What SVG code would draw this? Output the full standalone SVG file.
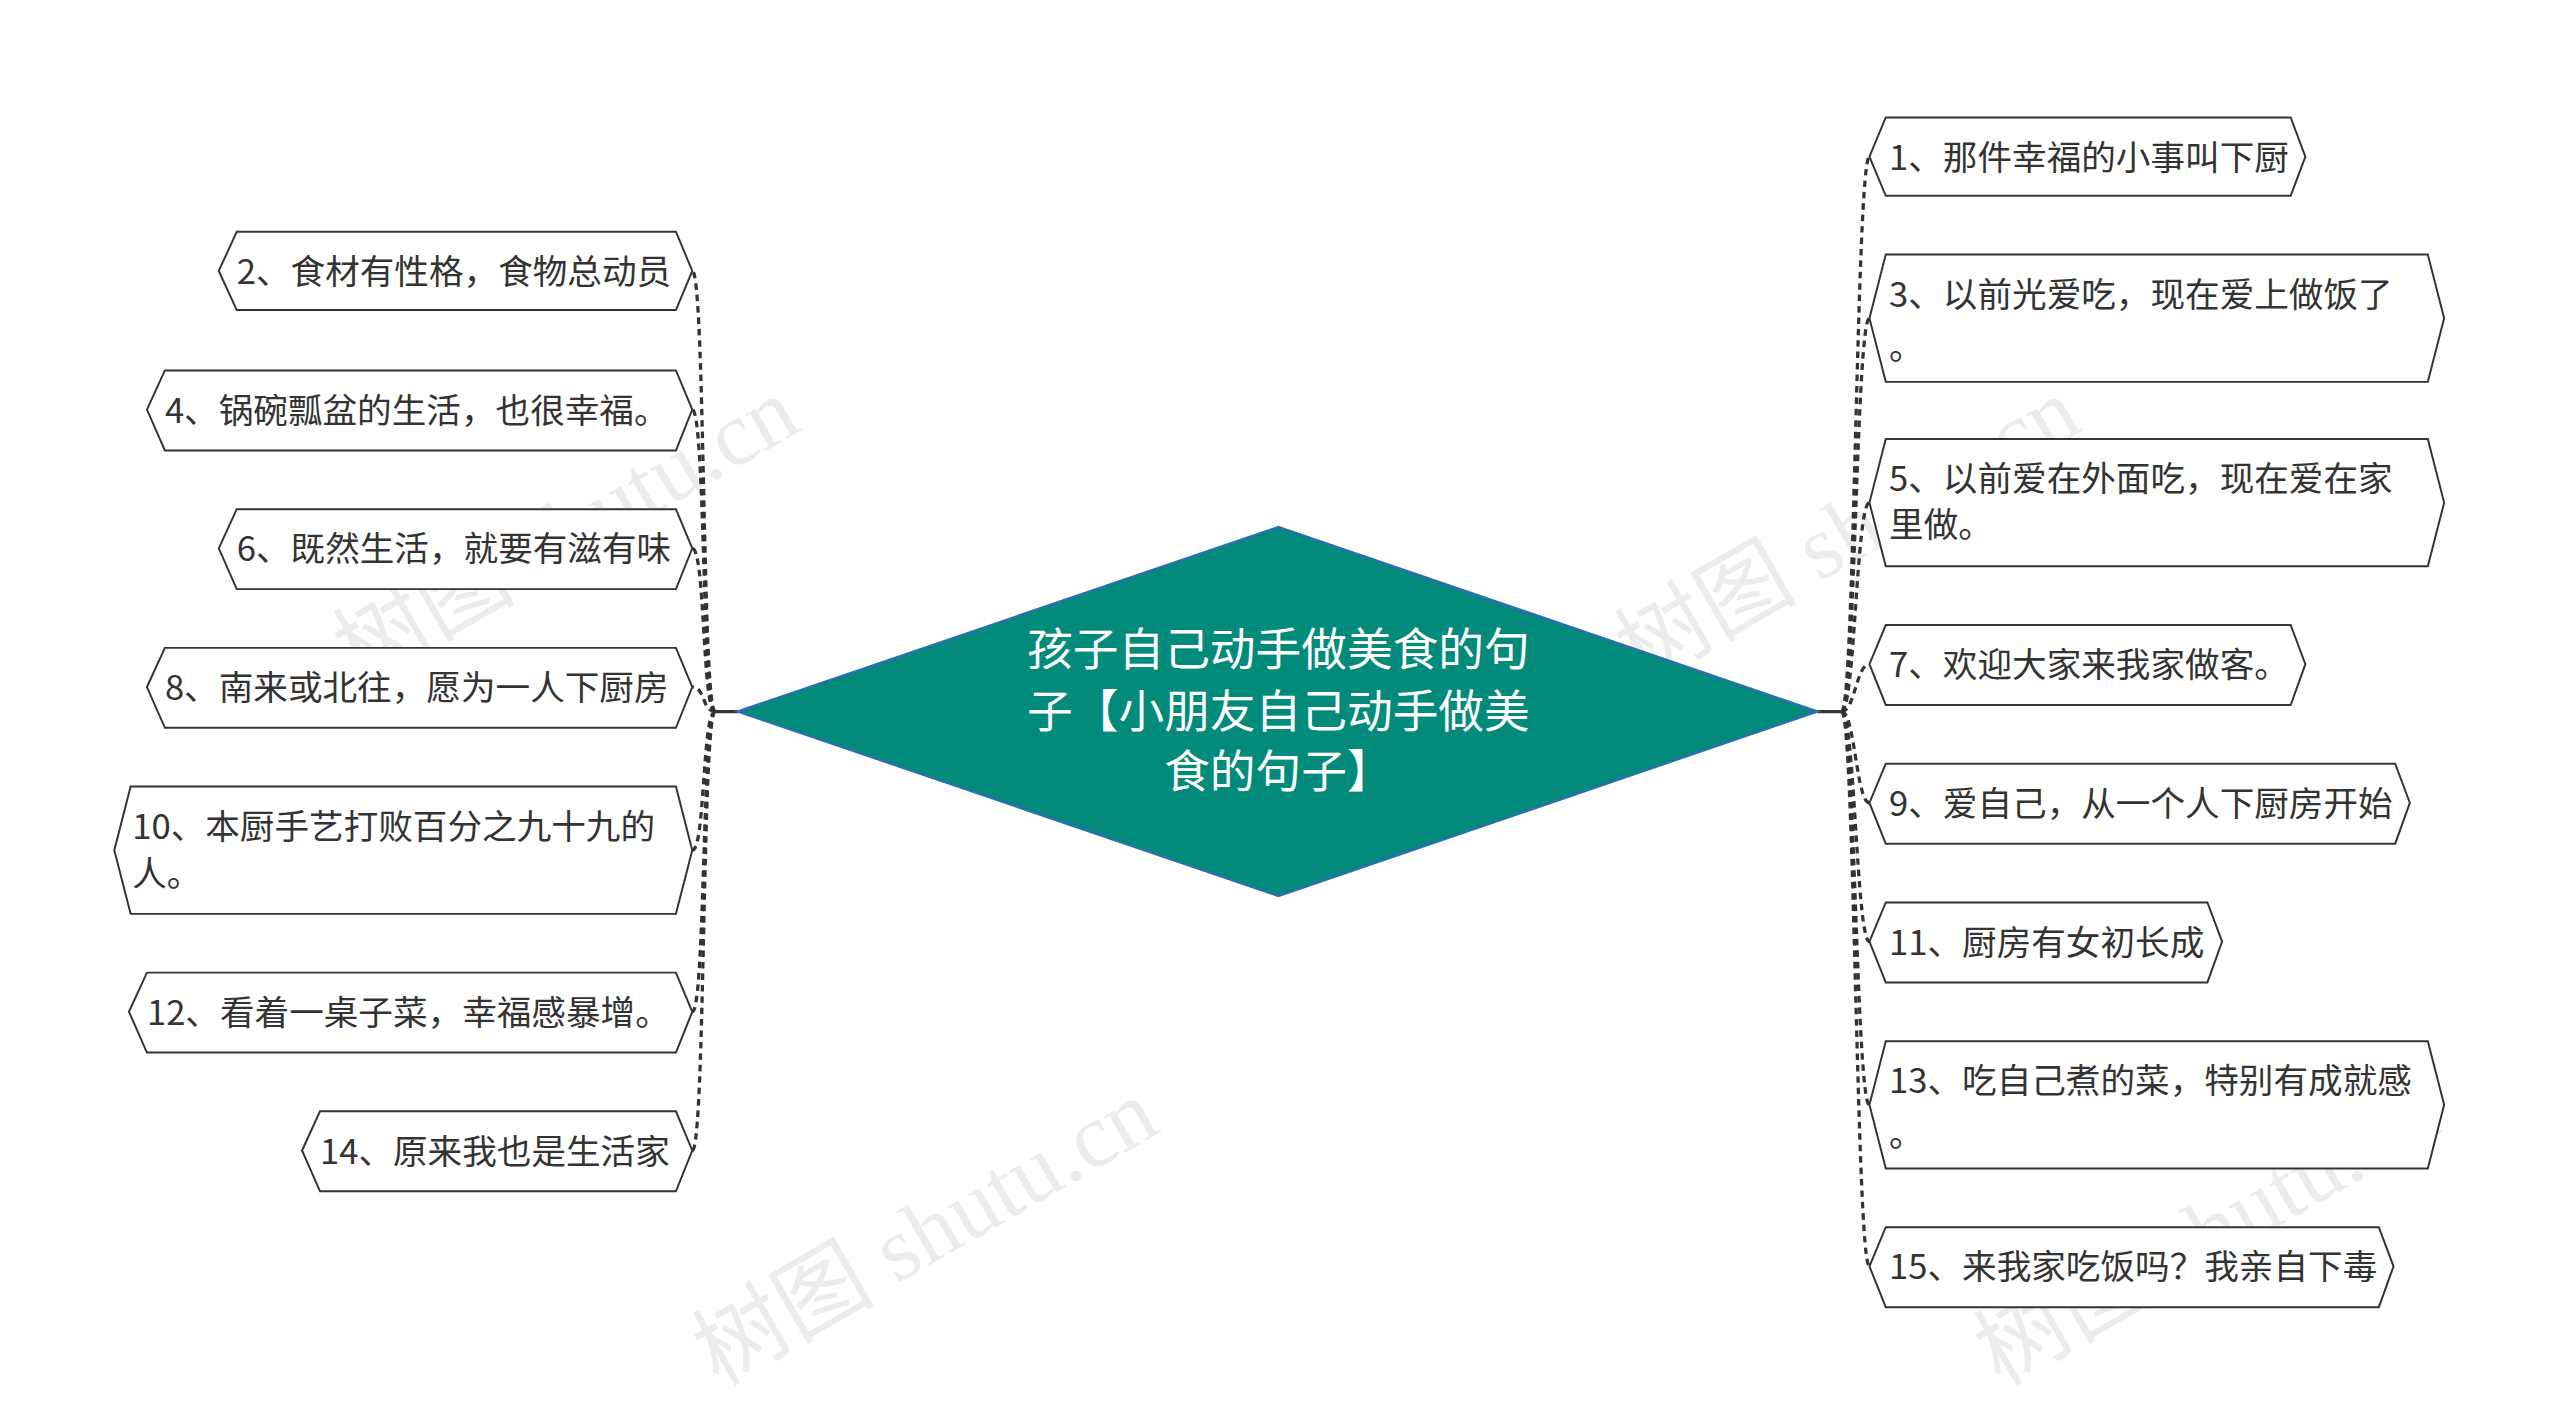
<svg xmlns="http://www.w3.org/2000/svg" width="2560" height="1423" viewBox="0 0 2560 1423">
<style>
.n{fill:#fff;stroke:#333;stroke-width:1.2}
.t{font-family:"Noto Sans CJK SC","Noto Sans",sans-serif;font-size:21.2px;fill:#333}
.c{fill:none;stroke:#333;stroke-width:2;stroke-dasharray:4 3}
.w{font-family:"Liberation Serif","Noto Sans CJK SC",serif;font-size:56px;fill:#000;opacity:0.07}
</style>
<rect width="2560" height="1423" fill="#fff"/>
<g transform="scale(1.6327,1.6319)">
<g id="watermarks">
<text class="w" transform="translate(220,420) rotate(-30)">树图 shutu.cn</text>
<text class="w" transform="translate(1005,420) rotate(-30)">树图 shutu.cn</text>
<text class="w" transform="translate(440,850) rotate(-30)">树图 shutu.cn</text>
<text class="w" transform="translate(1225,850) rotate(-30)">树图 shutu.cn</text>
</g>
<g id="connectors">
<path d="M452 436H438M1113 436H1128" stroke="#333" stroke-width="2" fill="none"/>
<path class="c" d="M438 436C430 436 432 166 424 166"/>
<path class="c" d="M438 436C430 436 432 251 424 251"/>
<path class="c" d="M438 436C430 436 432 336 424 336"/>
<path class="c" d="M438 436C430 436 432 421 424 421"/>
<path class="c" d="M438 436C430 436 432 521 424 521"/>
<path class="c" d="M438 436C430 436 432 620 424 620"/>
<path class="c" d="M438 436C430 436 432 705 424 705"/>
<path class="c" d="M1128 436C1136 436 1137 96 1145 96"/>
<path class="c" d="M1128 436C1136 436 1137 195 1145 195"/>
<path class="c" d="M1128 436C1136 436 1137 308 1145 308"/>
<path class="c" d="M1128 436C1136 436 1137 407 1145 407"/>
<path class="c" d="M1128 436C1136 436 1137 492 1145 492"/>
<path class="c" d="M1128 436C1136 436 1137 577 1145 577"/>
<path class="c" d="M1128 436C1136 436 1137 677 1145 677"/>
<path class="c" d="M1128 436C1136 436 1137 776 1145 776"/>
</g>
<g id="center">
<polygon points="452,436 783,323 1113,436 783,549" fill="#028a7b" stroke="#2a6fb0" stroke-width="1.5"/>
<text class="t" style="font-size:28px;fill:#fff" text-anchor="middle"><tspan x="783" y="408">孩子自己动手做美食的句</tspan><tspan x="783" y="446">子【小朋友自己动手做美</tspan><tspan x="783" y="483">食的句子】</tspan></text>
</g>
<g id="n2"><polygon class="n" points="134,166 145,142 414,142 424,166 414,190 145,190"/><text class="t" x="145" y="174">2、食材有性格，食物总动员</text></g>
<g id="n4"><polygon class="n" points="90,251 101,227 414,227 424,251 414,276 101,276"/><text class="t" x="101" y="259">4、锅碗瓢盆的生活，也很幸福。</text></g>
<g id="n6"><polygon class="n" points="134,336 145,312 414,312 424,336 414,361 145,361"/><text class="t" x="145" y="344">6、既然生活，就要有滋有味</text></g>
<g id="n8"><polygon class="n" points="90,421 101,397 414,397 424,421 414,446 101,446"/><text class="t" x="101" y="429">8、南来或北往，愿为一人下厨房</text></g>
<g id="n10"><polygon class="n" points="70,521 80,482 414,482 424,521 414,560 80,560"/><text class="t"><tspan x="81" y="514">10、本厨手艺打败百分之九十九的</tspan><tspan x="81" y="543">人。</tspan></text></g>
<g id="n12"><polygon class="n" points="79,620 90,596 414,596 424,620 414,645 90,645"/><text class="t" x="90" y="628">12、看着一桌子菜，幸福感暴增。</text></g>
<g id="n14"><polygon class="n" points="185,705 196,681 414,681 424,705 414,730 196,730"/><text class="t" x="196" y="713">14、原来我也是生活家</text></g>
<g id="n1"><polygon class="n" points="1145,96 1155,72 1403,72 1412,96 1403,120 1155,120"/><text class="t" x="1157" y="104">1、那件幸福的小事叫下厨</text></g>
<g id="n3"><polygon class="n" points="1145,195 1155,156 1487,156 1497,195 1487,234 1155,234"/><text class="t"><tspan x="1157" y="188">3、以前光爱吃，现在爱上做饭了</tspan><tspan x="1157" y="220">。</tspan></text></g>
<g id="n5"><polygon class="n" points="1145,308 1155,269 1487,269 1497,308 1487,347 1155,347"/><text class="t"><tspan x="1157" y="301">5、以前爱在外面吃，现在爱在家</tspan><tspan x="1157" y="329">里做。</tspan></text></g>
<g id="n7"><polygon class="n" points="1145,407 1155,383 1403,383 1412,407 1403,432 1155,432"/><text class="t" x="1157" y="415">7、欢迎大家来我家做客。</text></g>
<g id="n9"><polygon class="n" points="1145,492 1155,468 1467,468 1476,492 1467,517 1155,517"/><text class="t" x="1157" y="500">9、爱自己，从一个人下厨房开始</text></g>
<g id="n11"><polygon class="n" points="1145,577 1155,553 1352,553 1361,577 1352,602 1155,602"/><text class="t" x="1157" y="585">11、厨房有女初长成</text></g>
<g id="n13"><polygon class="n" points="1145,677 1155,638 1487,638 1497,677 1487,716 1155,716"/><text class="t"><tspan x="1157" y="670">13、吃自己煮的菜，特别有成就感</tspan><tspan x="1157" y="702">。</tspan></text></g>
<g id="n15"><polygon class="n" points="1145,776 1155,752 1457,752 1466,776 1457,801 1155,801"/><text class="t" x="1157" y="784">15、来我家吃饭吗？我亲自下毒</text></g>
</g>
</svg>
